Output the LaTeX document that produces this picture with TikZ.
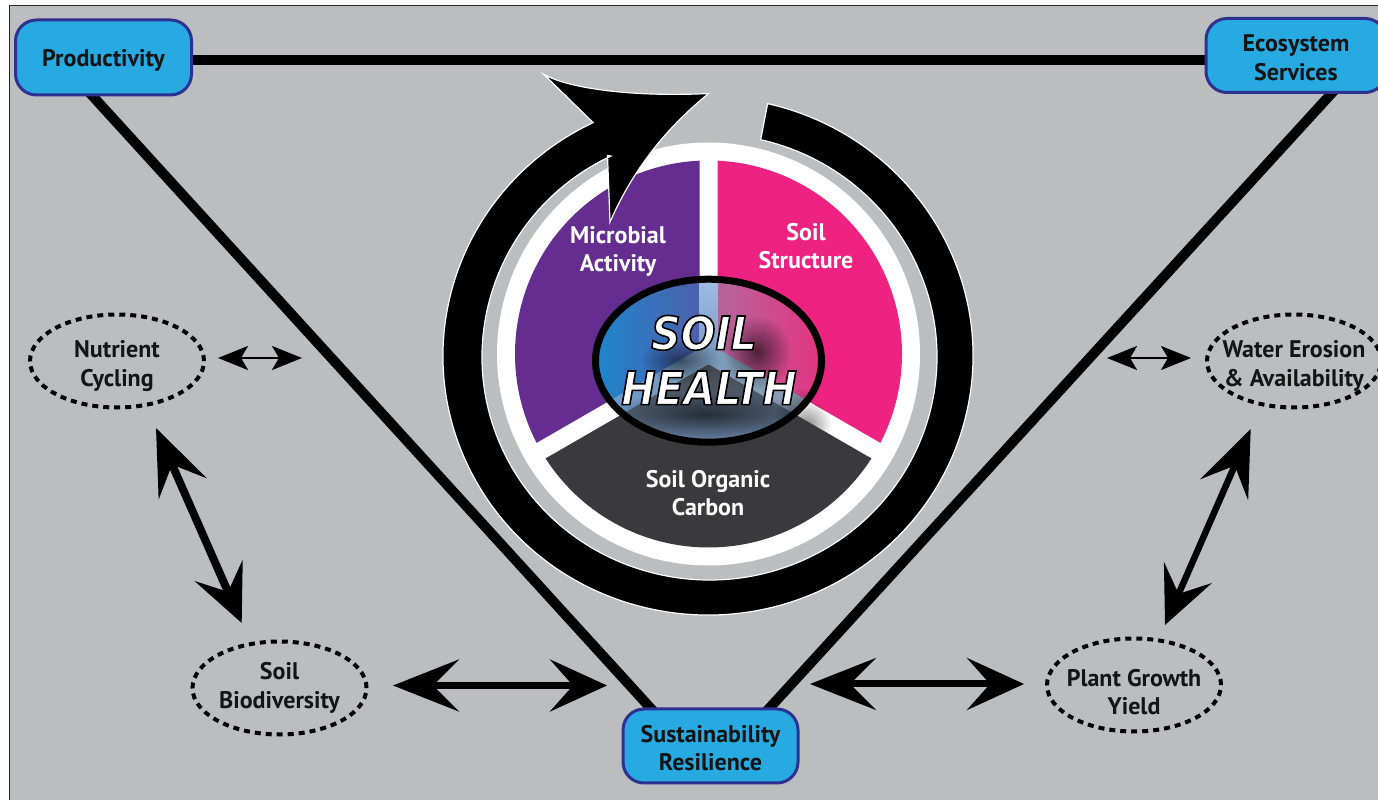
\documentclass[tikz,border=0pt]{standalone}
\usepackage{fontspec}
\setmainfont{PT Sans}
\newfontfamily\hfont[FakeStretch=.89]{DejaVu Sans}
\usetikzlibrary{arrows.meta,fadings,backgrounds,shapes.geometric,calc}
\definecolor{bggray}{HTML}{BBBDBF}
\definecolor{boxblue}{HTML}{27AAE1}
\definecolor{boxedge}{HTML}{2E3192}
\definecolor{wpurple}{HTML}{662D91}
\definecolor{wpink}{HTML}{EE2280}
\definecolor{wdark}{HTML}{3A3A3C}
\definecolor{lensa}{HTML}{1B88CE}
\definecolor{lensb}{HTML}{4E60AC}
\definecolor{lensc}{HTML}{B4669C}
\definecolor{lensd}{HTML}{E8307F}
\definecolor{lense}{HTML}{A4C1E8}
\definecolor{lensf}{HTML}{7E9CC8}
\definecolor{lensg}{HTML}{5D9AD4}
\definecolor{lensh}{HTML}{9A9DA4}
\definecolor{lensi}{HTML}{44474C}
\definecolor{lensj}{HTML}{6586AE}
\tikzfading[name=glowfade,inner color=transparent!0,outer color=transparent!100]
\newcommand{\ptext}{\fontsize{24}{28.6}\selectfont\bfseries}
\newcommand{\sh}[1]{\rule{0pt}{#1pt}}
\tikzset{
 x=1pt,y=1pt,
 goalbox/.style={draw=boxedge,fill=boxblue,line width=3pt,rounded corners=21pt,inner sep=0pt,align=center,font=\ptext,text=black!92},
 dashell/.style={ellipse,draw=black,line width=4pt,dash pattern=on 6pt off 5pt,inner xsep=-25pt,inner ysep=-15pt,minimum width=174pt,minimum height=93pt,align=center,font=\ptext,text=black!92},
 wlabel/.style={inner sep=0pt,align=center,font=\ptext,text=white},
 thickline/.style={line width=10pt,black,line cap=rect},
 bigarrow/.style={line width=7pt,black,{Stealth[length=66pt,width=52pt,inset=26pt]}-{Stealth[length=57pt,width=52pt,inset=23pt]}},
 smallarrow/.style={line width=2.5pt,black,{Stealth[length=30pt,width=24pt,inset=7pt]}-{Stealth[length=30pt,width=24pt,inset=7pt]}},
 glow/.style={black,path fading=glowfade},
}
\begin{document}
\begin{tikzpicture}
\begin{scope}[yshift=800pt,yscale=-1]
\path[use as bounding box] (0,0) rectangle (1378,800);
\begin{pgfonlayer}{background}
% page and panel
\fill[white] (0,0) rectangle (1378,800);
\fill[bggray] (9.5,5.5) rectangle (1378,800);
\draw[black!85,line width=1.4pt] (9.5,800) -- (9.5,5.5) -- (1378,5.5);
\end{pgfonlayer}

% outer disc
\coordinate (C) at (708.5,354);
\fill[white] (C) circle[radius=211.5pt];
% sectors
\fill[wpurple] (699.5,348.8) -- (699.5,160.7) arc[start angle=-92.66,end angle=-207.34,radius=193.5pt] -- cycle;
\fill[wpink] (717.5,348.8) -- (717.5,160.7) arc[start angle=-87.34,end angle=27.34,radius=193.5pt] -- cycle;
% shadow spilling round the lens
\fill[glow,opacity=.45] (806,424) ellipse[x radius=26pt,y radius=24pt];
\fill[wdark] (708.5,364.4) -- ($(C)+(32.66:193.5)$) arc[start angle=32.66,end angle=147.34,radius=193.5pt] -- cycle;

% lens
\begin{scope}
\clip (708.5,360.7) ellipse[x radius=114pt,y radius=82pt];
\shade[left color=lensa,right color=lensb] (590,270) rectangle (699.5,455);
\shade[left color=lensc,right color=lensd] (717.5,270) rectangle (830,455);
\shade[top color=lense,bottom color=lensf] (699.5,270) rectangle (717.5,349);
\shade[left color=lensg,right color=lensh] (699.5,348.8) -- (526,449) -- (526,600) -- (891,600) -- (891,449) -- (717.5,348.8) -- cycle;
\shade[top color=lensi,bottom color=lensj] (708.5,364.4) -- (536,464) -- (536,445) -- (881,445) -- (881,464) -- cycle;
\fill[glow,opacity=.6] (757,352) ellipse[x radius=34pt,y radius=36pt];
\fill[glow,opacity=.5] (680,360) ellipse[x radius=40pt,y radius=22pt];
\fill[glow,opacity=.55] (705,414) ellipse[x radius=100pt,y radius=22pt];
\fill[glow,opacity=.5] (800,418) ellipse[x radius=26pt,y radius=30pt];
\end{scope}
\draw[black,line width=7pt] (708.5,360.7) ellipse[x radius=113pt,y radius=81.5pt];

% circular arrow
\draw[white,line width=1.2pt,fill=black,line join=miter]
 ($(708,356)+({265*cos(-77)},{259*sin(-77)})$)
 arc[start angle=-77,end angle=244.3,x radius=265pt,y radius=259pt]
 -- (544,74.5)
 .. controls (572,90) and (640,97) .. (708.6,93.5)
 .. controls (670,125) and (635,165) .. (610,222)
 -- (607.5,155.5)
 -- ($(709.5,357)+({227.5*cos(244.3)},{223*sin(244.3)})$)
 arc[start angle=244.3,end angle=-77,x radius=227.5pt,y radius=223pt]
 -- cycle;

% labels in the disc
\node[wlabel] (micro) at (618,251.5) {Microbial\\Activity};
\node[wlabel] (struct) at (806,246) {Soil\\Structure};
\node[wlabel] (carbon) at (708,493) {Soil Organic\\Carbon};
\node[inner sep=0pt,align=center,text=white,font=\hfont\fontsize{46}{55}\selectfont\bfseries\itshape] (health) at (709,360)
 {\special{pdf:code 2 Tr 1.6 w 0 0 0 RG}SOIL\hspace*{10pt}\\HEALTH\special{pdf:code 0 Tr 0 w}};

% goals
\node[goalbox,minimum width=176pt,minimum height=75pt] (prod) at (103.5,57.5) {\sh{22}Productivity};
\node[goalbox,minimum width=180pt,minimum height=74pt] (eco) at (1296,55.5) {\sh{21}Ecosystem\\Services};
\node[goalbox,minimum width=175pt,minimum height=74pt] (sus) at (710.5,746) {\sh{21}Sustainability\\Resilience};

% triangle
\coordinate (topy) at (0,60);
\coordinate (tlx) at (93,0);
\coordinate (blx) at (650,0);
\coordinate (trx) at (1331,0);
\coordinate (brx) at (770,0);
\begin{pgfonlayer}{background}
\draw[thickline] (prod.east |- topy) -- (eco.west |- topy);
\draw[thickline] (prod.south -| tlx) -- (sus.north -| blx);
\draw[thickline] (eco.south -| trx) -- (sus.north -| brx);
\end{pgfonlayer}

% factors
\node[dashell] (nutr) at (117,361) {\sh{27}Nutrient\\Cycling};
\node[dashell] (biod) at (279.5,688) {Soil\\Biodiversity};
\node[dashell] (water) at (1294,361) {\sh{27}Water Erosion\\\& Availability};
\node[dashell] (plant) at (1134,685) {\sh{31}Plant Growth\\Yield};

% arrows
\coordinate (na) at (218,358); \coordinate (nb) at (302,358);
\coordinate (wa) at (1107,358); \coordinate (wb) at (1191,358);
\coordinate (lva) at (156,428); \coordinate (lvb) at (241.7,623);
\coordinate (rva) at (1250.7,429); \coordinate (rvb) at (1165,625);
\coordinate (lha) at (393,685.5); \coordinate (lhb) at (607,685.5);
\coordinate (rha) at (810,684); \coordinate (rhb) at (1024,684);
\draw[smallarrow] (na) -- (nb);
\draw[smallarrow] (wa) -- (wb);
\draw[bigarrow,line width=8pt] (lva) -- (lvb);
\draw[bigarrow,line width=6.5pt] (rva) -- (rvb);
\draw[bigarrow] (lha) -- (lhb);
\draw[bigarrow] (rha) -- (rhb);
\end{scope}
\end{tikzpicture}
\end{document}
